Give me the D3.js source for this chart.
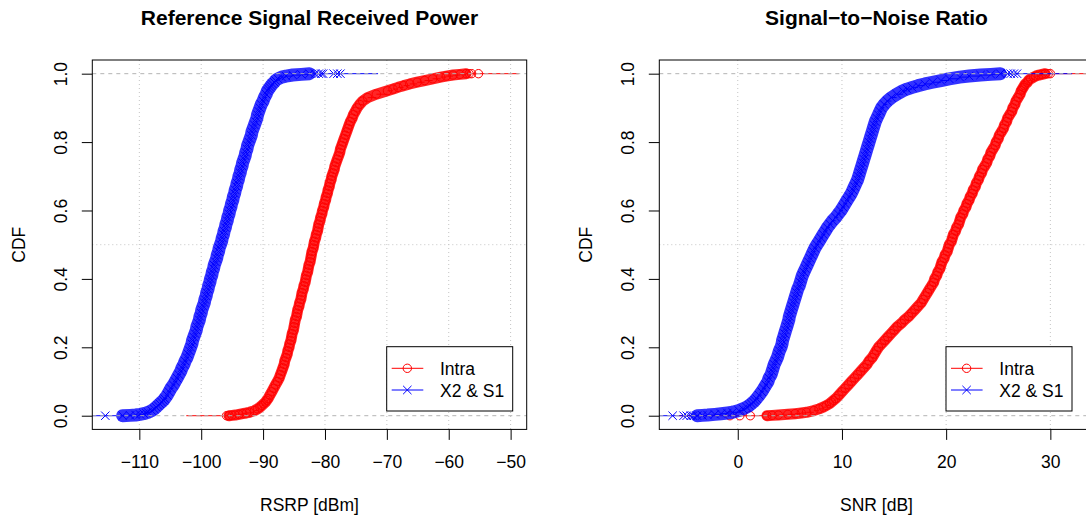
<!DOCTYPE html>
<html>
<head>
<meta charset="utf-8">
<title>RSRP and SNR CDF</title>
<script src="https://d3js.org/d3.v7.min.js"></script>
<style>
  body { margin: 0; background: #fff; }
  svg { display: block; font-family: "Liberation Sans", Arial, Helvetica, sans-serif; }
  .grid line { stroke: #c4c4c4; stroke-width: 1; stroke-dasharray: 1 3; }
  .line01 { stroke: #b3b3b3; stroke-width: 1; stroke-dasharray: 4 4; }
  .tick-label { font-size: 17.5px; }
  .axis-title { font-size: 17.5px; }
  .main-title { font-size: 21px; font-weight: bold; }
</style>
</head>
<body>
<svg id="chart" width="1086" height="518"></svg>
<script>
var cdfLevels = [
  0, 0.001, 0.002, 0.004, 0.006, 0.008, 0.01, 0.015, 0.02, 0.025, 0.03, 0.035, 0.04, 0.045, 0.05,
  0.06, 0.07, 0.08, 0.09, 0.10,
  0.11, 0.12, 0.13, 0.14, 0.15, 0.16, 0.17, 0.18, 0.19, 0.20,
  0.21, 0.22, 0.23, 0.24, 0.25, 0.26, 0.27, 0.28, 0.29, 0.30,
  0.31, 0.32, 0.33, 0.34, 0.35, 0.36, 0.37, 0.38, 0.39, 0.40,
  0.41, 0.42, 0.43, 0.44, 0.45, 0.46, 0.47, 0.48, 0.49, 0.50,
  0.51, 0.52, 0.53, 0.54, 0.55, 0.56, 0.57, 0.58, 0.59, 0.60,
  0.61, 0.62, 0.63, 0.64, 0.65, 0.66, 0.67, 0.68, 0.69, 0.70,
  0.71, 0.72, 0.73, 0.74, 0.75, 0.76, 0.77, 0.78, 0.79, 0.80,
  0.81, 0.82, 0.83, 0.84, 0.85, 0.86, 0.87, 0.88, 0.89, 0.90,
  0.91, 0.92, 0.93, 0.94, 0.95,
  0.955, 0.96, 0.965, 0.97, 0.975, 0.98, 0.985, 0.99, 0.993, 0.996, 0.998, 1
];

// RSRP [dBm], Intra handovers
var rsrpIntra = [
  -95.5, -95.0, -94.5, -93.9, -93.3, -92.7, -92.2, -91.4, -90.9, -90.5, -90.2, -89.9, -89.6, -89.4, -89.2,
  -88.9, -88.6, -88.3, -88.0, -87.7,
  -87.4, -87.2, -87.0, -86.8, -86.6, -86.5, -86.3, -86.1, -86.0, -85.8,
  -85.7, -85.5, -85.4, -85.3, -85.1, -85.0, -84.9, -84.8, -84.6, -84.5,
  -84.4, -84.2, -84.1, -83.9, -83.8, -83.7, -83.5, -83.4, -83.2, -83.1,
  -83.0, -82.8, -82.7, -82.6, -82.4, -82.3, -82.2, -82.1, -81.9, -81.8,
  -81.7, -81.5, -81.4, -81.2, -81.1, -81.0, -80.8, -80.7, -80.5, -80.4,
  -80.2, -80.1, -79.9, -79.8, -79.6, -79.5, -79.3, -79.2, -79.0, -78.9,
  -78.7, -78.5, -78.4, -78.2, -78.0, -77.8, -77.6, -77.5, -77.3, -77.1,
  -76.9, -76.7, -76.5, -76.3, -76.1, -75.9, -75.6, -75.4, -75.1, -74.8,
  -74.4, -73.9, -73.1, -71.7, -69.9,
  -69.0, -68.2, -67.3, -66.3, -65.1, -63.9, -62.6, -61.3, -60.4, -59.3, -58.2, -57.2
];
var rsrpIntraLow = [-95.9];
var rsrpIntraHigh = [-56.7, -56.3, -55.2];

// RSRP [dBm], X2 & S1 handovers
var rsrpX2 = [
  -112.7, -111.5, -110.6, -109.9, -109.3, -108.9, -108.6, -108.0, -107.6, -107.3, -107.0, -106.7, -106.4, -106.1, -105.9,
  -105.5, -105.2, -104.9, -104.5, -104.2,
  -103.9, -103.6, -103.3, -103.1, -102.8, -102.6, -102.3, -102.1, -101.9, -101.7,
  -101.5, -101.4, -101.2, -101.0, -100.8, -100.7, -100.5, -100.3, -100.2, -100.0,
  -99.9, -99.7, -99.5, -99.4, -99.2, -99.1, -98.9, -98.8, -98.6, -98.5,
  -98.3, -98.2, -98.0, -97.9, -97.7, -97.5, -97.4, -97.2, -97.1, -96.9,
  -96.7, -96.6, -96.4, -96.3, -96.1, -96.0, -95.8, -95.7, -95.5, -95.4,
  -95.2, -95.1, -94.9, -94.8, -94.6, -94.5, -94.3, -94.2, -94.0, -93.9,
  -93.7, -93.6, -93.4, -93.3, -93.1, -92.9, -92.8, -92.6, -92.5, -92.3,
  -92.1, -91.9, -91.8, -91.6, -91.4, -91.2, -91.0, -90.9, -90.7, -90.5,
  -90.3, -90.0, -89.8, -89.5, -89.3,
  -89.1, -88.9, -88.7, -88.5, -88.2, -88.0, -87.6, -87.0, -86.3, -85.2, -83.8, -82.5
];
var rsrpX2Low = [-115.5];
var rsrpX2High = [-81.6, -81.0, -80.6, -80.3, -78.6, -78.0, -77.5];

// SNR [dB], Intra handovers
var snrIntra = [
  2.8, 3.3, 3.9, 4.8, 5.5, 6.1, 6.6, 7.3, 7.8, 8.2, 8.5, 8.8, 9.0, 9.2, 9.4,
  9.7, 10.0, 10.3, 10.6, 10.9,
  11.2, 11.5, 11.8, 12.1, 12.4, 12.6, 12.9, 13.1, 13.3, 13.5,
  13.8, 14.1, 14.4, 14.7, 15.0, 15.3, 15.7, 16.0, 16.4, 16.7,
  17.0, 17.3, 17.6, 17.8, 18.0, 18.2, 18.4, 18.6, 18.8, 18.9,
  19.1, 19.2, 19.4, 19.5, 19.6, 19.8, 19.9, 20.1, 20.2, 20.3,
  20.5, 20.6, 20.7, 20.9, 21.0, 21.2, 21.3, 21.4, 21.6, 21.7,
  21.9, 22.0, 22.2, 22.3, 22.5, 22.6, 22.8, 22.9, 23.1, 23.2,
  23.4, 23.5, 23.7, 23.9, 24.0, 24.2, 24.3, 24.5, 24.7, 24.8,
  25.0, 25.1, 25.3, 25.5, 25.6, 25.8, 25.9, 26.1, 26.3, 26.4,
  26.6, 26.7, 26.9, 27.1, 27.2,
  27.3, 27.4, 27.5, 27.6, 27.8, 27.9, 28.1, 28.4, 28.6, 28.9, 29.2, 29.5
];
var snrIntraLow = [-0.75, 0.2, 1.2];
var snrIntraHigh = [29.8, 30.0];

// SNR [dB], X2 & S1 handovers
var snrX2 = [
  -3.9, -3.4, -2.9, -2.2, -1.6, -1.0, -0.5, 0.1, 0.5, 0.85, 1.1, 1.3, 1.5, 1.65, 1.8,
  2.05, 2.3, 2.5, 2.7, 2.9,
  3.0, 3.2, 3.3, 3.4, 3.5, 3.65, 3.8, 3.9, 4.0, 4.15,
  4.25, 4.3, 4.4, 4.5, 4.6, 4.7, 4.8, 4.9, 4.95, 5.05,
  5.15, 5.25, 5.35, 5.45, 5.55, 5.65, 5.75, 5.9, 6.0, 6.1,
  6.2, 6.35, 6.5, 6.65, 6.8, 6.95, 7.1, 7.25, 7.4, 7.6,
  7.8, 8.0, 8.2, 8.4, 8.6, 8.85, 9.1, 9.4, 9.65, 9.9,
  10.1, 10.3, 10.5, 10.7, 10.9, 11.05, 11.2, 11.35, 11.5, 11.6,
  11.7, 11.8, 11.9, 12.0, 12.1, 12.2, 12.3, 12.4, 12.5, 12.6,
  12.7, 12.8, 12.9, 13.0, 13.1, 13.2, 13.35, 13.5, 13.65, 13.8,
  14.05, 14.35, 14.75, 15.25, 15.85,
  16.25, 16.75, 17.3, 17.95, 18.7, 19.5, 20.3, 21.3, 22.2, 23.3, 24.3, 25.2
];
var snrX2Low = [-6.25, -5.2, -4.9, -4.5, -4.3];
var snrX2High = [25.9, 26.2, 26.5, 26.8];

var rsrpTicks = [-110, -100, -90, -80, -70, -60, -50];
var snrTicks = [0, 10, 20, 30];
var cdfTicks = [0, 0.2, 0.4, 0.6, 0.8, 1.0];
var legendLabels = ["Intra", "X2 & S1"];
var seriesColors = ["#ff0000", "#0000ff"];

var svg = d3.select("#chart");
svg.append("rect").attr("width", 1086).attr("height", 518).attr("fill", "#fff");

var plotTop = 60, plotBottom = 429.4;
var y = d3.scaleLinear().domain([-0.04, 1.04]).range([plotBottom, plotTop]);

var panels = [
  {
    title: "Reference Signal Received Power", xlab: "RSRP [dBm]",
    x0: 92.3, x1: 526.7, domain: [-117.6, -47.4], ticks: rsrpTicks,
    series: [[rsrpIntra, rsrpIntraLow, rsrpIntraHigh], [rsrpX2, rsrpX2Low, rsrpX2High]],
    legendX: 386.7
  },
  {
    title: "Signal\u2212to\u2212Noise Ratio", xlab: "SNR [dB]",
    x0: 659.3, x1: 1093.7, domain: [-7.53, 34.16], ticks: snrTicks,
    series: [[snrIntra, snrIntraLow, snrIntraHigh], [snrX2, snrX2Low, snrX2High]],
    legendX: 946
  }
];

function crossPath(r) {
  return "M" + (-r) + "," + (-r) + "L" + r + "," + r + "M" + (-r) + "," + r + "L" + r + "," + (-r);
}

// one ECDF: dense marker band, step segments, markers
function drawSeries(g, x, s, color, k) {
  var main = s[0].map(function (v, i) { return [v, cdfLevels[i]]; });
  var pts = s[1].map(function (v) { return [v, 0]; })
    .concat(main)
    .concat(s[2].map(function (v) { return [v, 1]; }));
  pts.sort(function (a, b) { return a[0] - b[0]; });

  // overplotted markers merge into a solid band in the original
  g.append("path").datum(main)
    .attr("d", d3.line().x(function (d) { return x(d[0]); }).y(function (d) { return y(d[1]); }))
    .attr("fill", "none").attr("stroke", color)
    .attr("stroke-opacity", k === 0 ? 0.85 : 0.8)
    .attr("stroke-width", k === 0 ? 11 : 13)
    .attr("stroke-linejoin", "round").attr("stroke-linecap", "round");

  var xmin = pts[0][0], xmax = pts[pts.length - 1][0];
  var ext = 2 * 0.08 * (xmax - xmin);
  var segs = [[xmin - ext, xmin, 0]];
  for (var i = 0; i < pts.length - 1; i++) segs.push([pts[i][0], pts[i + 1][0], pts[i][1]]);
  segs.push([xmax, xmax + ext, 1]);

  g.append("g").selectAll("line").data(segs).join("line")
    .attr("x1", function (d) { return x(d[0]); })
    .attr("x2", function (d) { return x(d[1]); })
    .attr("y1", function (d) { return y(d[2]); })
    .attr("y2", function (d) { return y(d[2]); })
    .attr("stroke", color).attr("stroke-width", 1);

  var m = g.append("g").attr("fill", "none").attr("stroke", color).attr("stroke-width", 1);
  if (k === 0) {
    m.selectAll("circle").data(pts).join("circle")
      .attr("cx", function (d) { return x(d[0]); })
      .attr("cy", function (d) { return y(d[1]); })
      .attr("r", 4.2);
  } else {
    m.selectAll("path").data(pts).join("path")
      .attr("transform", function (d) { return "translate(" + x(d[0]) + "," + y(d[1]) + ")"; })
      .attr("d", crossPath(4.2));
  }
}

panels.forEach(function (p, pi) {
  var x = d3.scaleLinear().domain(p.domain).range([p.x0, p.x1]);
  var g = svg.append("g");
  var clipId = "clip" + pi;
  svg.append("clipPath").attr("id", clipId).append("rect")
    .attr("x", p.x0).attr("y", plotTop).attr("width", p.x1 - p.x0).attr("height", plotBottom - plotTop);

  var plot = g.append("g").attr("clip-path", "url(#" + clipId + ")");

  // grid
  var grid = plot.append("g").attr("class", "grid");
  grid.selectAll("line.v").data(p.ticks).join("line").attr("class", "v")
    .attr("x1", function (d) { return x(d); }).attr("x2", function (d) { return x(d); })
    .attr("y1", plotTop).attr("y2", plotBottom);
  grid.append("line").attr("x1", p.x0).attr("x2", p.x1).attr("y1", y(0.5)).attr("y2", y(0.5));

  // series: Intra first, then X2 & S1
  p.series.forEach(function (s, k) {
    drawSeries(plot, x, s, seriesColors[k], k);
  });

  // 0 and 1 reference lines
  plot.selectAll("line.line01").data([0, 1]).join("line").attr("class", "line01")
    .attr("x1", p.x0).attr("x2", p.x1)
    .attr("y1", function (d) { return y(d); }).attr("y2", function (d) { return y(d); });

  // box
  g.append("rect").attr("x", p.x0).attr("y", plotTop)
    .attr("width", p.x1 - p.x0).attr("height", plotBottom - plotTop)
    .attr("fill", "none").attr("stroke", "#000").attr("stroke-width", 1);

  // x axis
  var xa = g.append("g").attr("transform", "translate(0," + plotBottom + ")")
    .call(d3.axisBottom(x).tickValues(p.ticks).tickSize(10.5).tickSizeOuter(0).tickPadding(0).tickFormat(d3.format("d")));
  xa.select(".domain").remove();
  xa.selectAll(".tick line").attr("stroke", "#000");
  xa.selectAll(".tick text").attr("class", "tick-label").attr("dy", null).attr("y", 39.1)
    .attr("fill", "#000");
  xa.attr("font-family", null).attr("font-size", null);

  // y axis
  var ya = g.append("g").attr("transform", "translate(" + p.x0 + ",0)")
    .call(d3.axisLeft(y).tickValues(cdfTicks).tickSize(10.5).tickSizeOuter(0).tickFormat(d3.format(".1f")));
  ya.select(".domain").remove();
  ya.selectAll(".tick line").attr("stroke", "#000");
  ya.selectAll(".tick text").attr("class", "tick-label")
    .attr("x", null).attr("dy", null)
    .attr("text-anchor", "middle").attr("transform", "translate(-25,0) rotate(-90)")
    .attr("fill", "#000");
  ya.attr("font-family", null).attr("font-size", null).attr("text-anchor", null);

  var cx = (p.x0 + p.x1) / 2;
  g.append("text").attr("class", "main-title").attr("x", cx).attr("y", 24.5)
    .attr("text-anchor", "middle").text(p.title);
  g.append("text").attr("class", "axis-title").attr("x", cx).attr("y", 511)
    .attr("text-anchor", "middle").text(p.xlab);
  g.append("text").attr("class", "axis-title")
    .attr("transform", "translate(" + (p.x0 - 67.8) + "," + ((plotTop + plotBottom) / 2) + ") rotate(-90)")
    .attr("text-anchor", "middle").text("CDF");

  // legend
  var lg = g.append("g").attr("transform", "translate(" + p.legendX + ",346.7)");
  lg.append("rect").attr("width", 126).attr("height", 64.3)
    .attr("fill", "#fff").attr("stroke", "#000").attr("stroke-width", 1);
  var rows = lg.selectAll("g.row").data(legendLabels).join("g").attr("class", "row")
    .attr("transform", function (d, i) { return "translate(0," + (21.6 + i * 21.7) + ")"; });
  rows.append("line").attr("x1", 5).attr("x2", 36.6)
    .attr("stroke", function (d, i) { return seriesColors[i]; }).attr("stroke-width", 1);
  rows.each(function (d, i) {
    var r = d3.select(this);
    if (i === 0) {
      r.append("circle").attr("cx", 20.6).attr("r", 4.2)
        .attr("fill", "none").attr("stroke", seriesColors[i]);
    } else {
      r.append("path").attr("transform", "translate(20.6,0)").attr("d", crossPath(4.2))
        .attr("fill", "none").attr("stroke", seriesColors[i]);
    }
  });
  rows.append("text").attr("class", "tick-label").attr("x", 53.3).attr("y", 6.5).text(function (d) { return d; });
});
</script>
</body>
</html>
